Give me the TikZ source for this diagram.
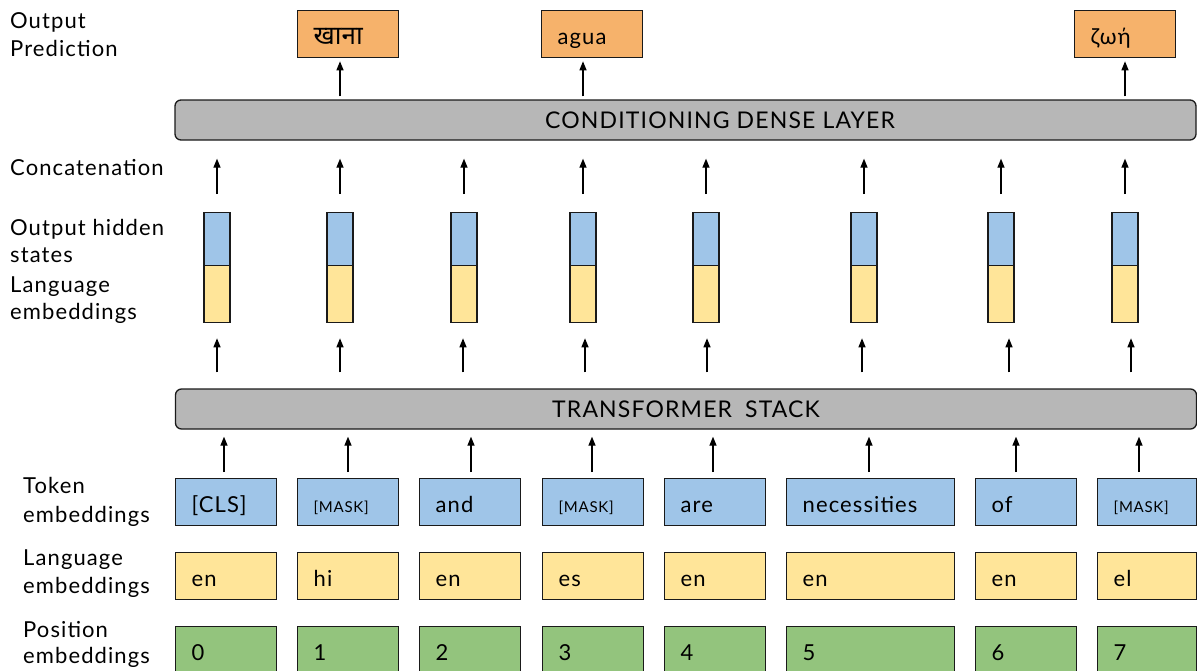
\documentclass[tikz,border=0pt]{standalone}
\usepackage{fontspec}
\setmainfont{Lato}[LetterSpace=5]
\newfontfamily\devfont[Script=Devanagari]{Noto Sans}
\usetikzlibrary{arrows.meta}
\definecolor{tokblue}{HTML}{9FC5E8}
\definecolor{langyel}{HTML}{FFE599}
\definecolor{posgreen}{HTML}{93C47D}
\definecolor{outorange}{HTML}{F6B26B}
\definecolor{bargray}{HTML}{B7B7B7}
\definecolor{edgecol}{HTML}{1A1A1A}
\newcommand{\bigtext}{\fontsize{22}{28}\selectfont}
\newcommand{\bartext}{\fontsize{23}{28}\selectfont}
\newcommand{\smalltext}{\fontsize{15}{18}\selectfont}
\begin{document}
\begin{tikzpicture}[x=1pt,y=-1pt,
  lbl/.style={anchor=base west, inner sep=0pt, font=\bigtext},
  ebox/.style={draw=edgecol, line width=1.3pt, anchor=north west, minimum height=47pt,
    inner xsep=16pt, inner ysep=0pt, align=left, text width=#1, text height=20pt,
    text depth=0pt, font=\bigtext},
  ebox/.default=69pt,
  hid/.style={draw=edgecol, line width=1.3pt, minimum width=26pt, inner sep=0pt, anchor=north},
  bar/.style={draw=edgecol, line width=1.3pt, fill=bargray, rounded corners=6pt,
    minimum width=1021pt, minimum height=40pt, inner sep=0pt, font=\bartext},
  arr/.style={-{Triangle[length=9pt,width=7pt]}, line width=1.3pt, draw=black}]
\clip (0,0) rectangle (1197,670);

% left labels
\node[lbl] (lA1) at (10,28) {Output};
\node[lbl] (lA2) at (10,56) {Prediction};
\node[lbl] (lB1) at (10,175) {Concatenation};
\node[lbl] (lC1) at (10,235) {Output hidden};
\node[lbl] (lC2) at (10,262) {states};
\node[lbl] (lD1) at (10,292) {Language};
\node[lbl] (lD2) at (10,319) {embeddings};
\node[lbl] (lE1) at (23,493) {Token};
\node[lbl] (lE2) at (23,522) {embeddings};
\node[lbl] (lF1) at (23,565) {Language};
\node[lbl] (lF2) at (23,593) {embeddings};
\node[lbl] (lG1) at (23,637) {Position};
\node[lbl] (lG2) at (23,663) {embeddings};

% bars
\node[bar] (dense) at (685.5,120) {};
\node[font=\bartext, inner sep=0pt] (densetxt) at (720,120) {CONDITIONING DENSE LAYER};
\node[bar] (tstack) at (686,409) {TRANSFORMER\hspace{13pt}STACK};

% output boxes
\node[ebox, fill=outorange] (out1) at (297,10) {\fontsize{26}{28}\devfont खाना};
\node[ebox, fill=outorange] (out2) at (541,10) {agua};
\node[ebox, fill=outorange] (out3) at (1074,10) {ζωή};

% token embeddings
\node[ebox, fill=tokblue] (tok1) at (175,478) {[CLS]};
\node[ebox, fill=tokblue] (tok2) at (297,478) {\smalltext[MASK]};
\node[ebox, fill=tokblue] (tok3) at (419,478) {and};
\node[ebox, fill=tokblue] (tok4) at (542,478) {\smalltext[MASK]};
\node[ebox, fill=tokblue] (tok5) at (664,478) {are};
\node[ebox=136pt, fill=tokblue] (tok6) at (786,478) {necessities};
\node[ebox, fill=tokblue] (tok7) at (975,478) {of};
\node[ebox=67pt, fill=tokblue] (tok8) at (1097,478) {\smalltext[MASK]};

% language embeddings
\node[ebox, fill=langyel] (lang1) at (175,552) {en};
\node[ebox, fill=langyel] (lang2) at (297,552) {hi};
\node[ebox, fill=langyel] (lang3) at (419,552) {en};
\node[ebox, fill=langyel] (lang4) at (542,552) {es};
\node[ebox, fill=langyel] (lang5) at (664,552) {en};
\node[ebox=136pt, fill=langyel] (lang6) at (786,552) {en};
\node[ebox, fill=langyel] (lang7) at (975,552) {en};
\node[ebox=67pt, fill=langyel] (lang8) at (1097,552) {el};

% position embeddings
\node[ebox, fill=posgreen] (pos1) at (175,626) {0};
\node[ebox, fill=posgreen] (pos2) at (297,626) {1};
\node[ebox, fill=posgreen] (pos3) at (419,626) {2};
\node[ebox, fill=posgreen] (pos4) at (542,626) {3};
\node[ebox, fill=posgreen] (pos5) at (664,626) {4};
\node[ebox=136pt, fill=posgreen] (pos6) at (786,626) {5};
\node[ebox, fill=posgreen] (pos7) at (975,626) {6};
\node[ebox=67pt, fill=posgreen] (pos8) at (1097,626) {7};

% hidden state columns
\foreach \i/\x in {1/217,2/340,3/464,4/583,5/706,6/864,7/1001,8/1125}{
  \node[hid, fill=tokblue, minimum height=53pt] (hb\i) at (\x,212) {};
  \node[hid, fill=langyel, minimum height=57pt] (hy\i) at (\x,265) {};
  \draw[arr, shorten <=18pt, shorten >=18pt] (hb\i.north) -- (hb\i.north |- dense.south);
}

% arrows from transformer stack to hidden columns
\foreach \i/\x in {1/217,2/340,3/463,4/585,5/707,6/862,7/1009,8/1131}{
  \coordinate (ha\i) at (\x,0);
  \draw[arr, shorten <=16pt, shorten >=15pt] (ha\i |- tstack.north) -- (ha\i |- hy\i.south);
}

% arrows from token embeddings to transformer stack
\foreach \i/\x in {1/224,2/348,3/471,4/592,5/713,6/869,7/1016,8/1139}{
  \coordinate (ta\i) at (\x,0);
  \draw[arr, shorten <=6pt, shorten >=7pt] (ta\i |- tok\i.north) -- (ta\i |- tstack.south);
}

% arrows to output predictions
\draw[arr, shorten <=3pt, shorten >=3pt] (hb2.north |- dense.north) -- (hb2.north |- out1.south);
\draw[arr, shorten <=3pt, shorten >=3pt] (hb4.north |- dense.north) -- (hb4.north |- out2.south);
\draw[arr, shorten <=3pt, shorten >=3pt] (hb8.north |- dense.north) -- (hb8.north |- out3.south);
\end{tikzpicture}
\end{document}
